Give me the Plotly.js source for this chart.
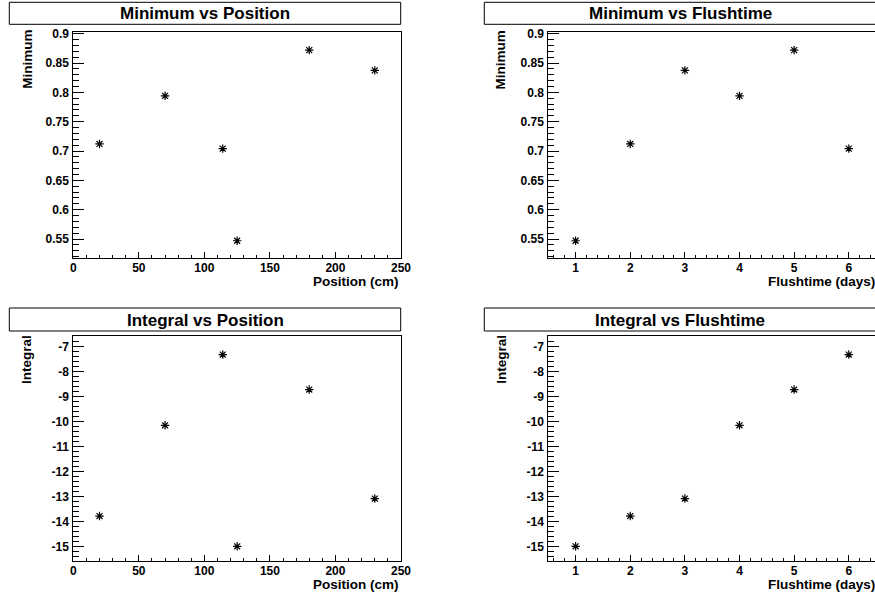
<!DOCTYPE html>
<html>
<head>
<meta charset="utf-8">
<script src="https://cdn.plot.ly/plotly-3.0.1.min.js"></script>
<style>html,body{margin:0;padding:0;background:#fff;}#chart{width:875px;height:598px;}</style>
</head>
<body>
<div id="chart"></div>
<script>
// ---- data ----
const position = [20, 70, 114, 125, 180, 230];
const minimumByPosition = [0.712, 0.794, 0.704, 0.547, 0.872, 0.8375];
const integralByPosition = [-13.79, -10.16, -7.33, -15.0, -8.73, -13.09];
const flushtime = [1, 2, 3, 4, 5, 6];
const minimumByFlushtime = [0.547, 0.712, 0.8375, 0.794, 0.872, 0.704];
const integralByFlushtime = [-15.0, -13.79, -13.09, -10.16, -8.73, -7.33];

const positionTicks = [0, 50, 100, 150, 200, 250];
const positionTickText = ["0", "50", "100", "150", "200", "250"];
const flushTicks = [1, 2, 3, 4, 5, 6];
const flushTickText = ["1", "2", "3", "4", "5", "6"];
const minimumTicks = [0.55, 0.6, 0.65, 0.7, 0.75, 0.8, 0.85, 0.9];
const minimumTickText = ["0.55", "0.6", "0.65", "0.7", "0.75", "0.8", "0.85", "0.9"];
const integralTicks = [-15, -14, -13, -12, -11, -10, -9, -8, -7];
const integralTickText = ["-15", "-14", "-13", "-12", "-11", "-10", "-9", "-8", "-7"];

const panelTitles = ["Minimum vs Position", "Minimum vs Flushtime", "Integral vs Position", "Integral vs Flushtime"];
const xTitles = ["Position (cm)", "Flushtime (days)", "Position (cm)", "Flushtime (days)"];
const yTitles = ["Minimum", "Minimum", "Integral", "Integral"];

// ---- layout helpers ----
const W = 875, H = 598;
const px = v => v / W;
const py = v => 1 - v / H;
const FONT = "Liberation Sans, Arial, Helvetica, sans-serif";
const bold = arr => arr.map(s => "<b>" + s + "</b>");

const marker = {symbol: "asterisk-open", size: 7, color: "black", line: {color: "black", width: 1.2}};
function trace(x, y, xa, ya) {
  return {x: x, y: y, xaxis: xa, yaxis: ya, type: "scatter", mode: "markers", marker: marker, hoverinfo: "skip", cliponaxis: false};
}
const data = [
  trace(position, minimumByPosition, "x", "y"),
  trace(flushtime, minimumByFlushtime, "x2", "y2"),
  trace(position, integralByPosition, "x3", "y3"),
  trace(flushtime, integralByFlushtime, "x4", "y4")
];

const tickFont = {family: FONT, size: 12, color: "black"};
function xAxis(domain, range, tv, tt, minorDt, anchor, mirror) {
  return {domain: domain, range: range, anchor: anchor, tickmode: "array", tickvals: tv, ticktext: bold(tt),
    ticks: "inside", ticklen: 6, tickwidth: 1, tickcolor: "black",
    minor: {ticks: "inside", ticklen: 3, tickwidth: 1, tickcolor: "black", dtick: minorDt, tick0: 0, showgrid: false},
    showline: true, linecolor: "black", linewidth: 1, mirror: mirror,
    showgrid: false, zeroline: false, tickfont: tickFont, ticklabelstandoff: -2, fixedrange: true};
}
function yAxis(domain, range, tv, tt, minorDt, anchor, mirror) {
  return {domain: domain, range: range, anchor: anchor, tickmode: "array", tickvals: tv, ticktext: bold(tt),
    ticks: "inside", ticklen: 11, tickwidth: 1, tickcolor: "black",
    minor: {ticks: "inside", ticklen: 6, tickwidth: 1, tickcolor: "black", dtick: minorDt, tick0: 0, showgrid: false},
    showline: true, linecolor: "black", linewidth: 1, mirror: mirror,
    showgrid: false, zeroline: false, tickfont: tickFont, ticklabelstandoff: 1, fixedrange: true};
}

const leftX = [px(73.3), px(401)];
const rightX = [px(548.3), 1];
const topY = [py(258.3), py(31.7)];
const botY = [py(561.3), py(336.3)];
const minRange = [0.5171, 0.9034];
const intRange = [-15.6, -6.6];
const posRange = [0, 250];
const flushRange = [0.5, 6.48];

const layout = {
  width: W, height: H, margin: {l: 0, r: 0, t: 0, b: 0},
  paper_bgcolor: "white", plot_bgcolor: "white", showlegend: false,
  xaxis: xAxis(leftX, posRange, positionTicks, positionTickText, 10, "y", true),
  yaxis: yAxis(topY, minRange, minimumTicks, minimumTickText, 0.01, "x", true),
  xaxis2: xAxis(rightX, flushRange, flushTicks, flushTickText, 0.2, "y2", true),
  yaxis2: yAxis(topY, minRange, minimumTicks, minimumTickText, 0.01, "x2", false),
  xaxis3: xAxis(leftX, posRange, positionTicks, positionTickText, 10, "y3", true),
  yaxis3: yAxis(botY, intRange, integralTicks, integralTickText, 0.2, "x3", true),
  xaxis4: xAxis(rightX, flushRange, flushTicks, flushTickText, 0.2, "y4", true),
  yaxis4: yAxis(botY, intRange, integralTicks, integralTickText, 0.2, "x4", false),
  shapes: [], annotations: []
};

// title boxes [x0, x1, y0, y1] in pixels
const boxes = [[9.3, 400.7, 2.3, 24.3], [484.3, 880, 2.3, 24.3], [9.3, 400.7, 308, 331], [484.3, 880, 308, 331]];
const titleCenters = [205, 680, 205, 680];
boxes.forEach((b, i) => {
  layout.shapes.push({type: "rect", xref: "paper", yref: "paper", x0: px(b[0]), x1: px(b[1]), y0: py(b[2]), y1: py(b[3]),
    line: {color: "black", width: 1}, fillcolor: "white", layer: "below"});
  layout.annotations.push({xref: "paper", yref: "paper", x: px(titleCenters[i]), y: py((b[2] + b[3]) / 2 + 0.5),
    xanchor: "center", yanchor: "middle", showarrow: false, text: "<b>" + panelTitles[i] + "</b>",
    font: {family: FONT, size: 17, color: "black"}});
});

// x axis titles (right aligned to plot right edge)
const xTitlePos = [[401, 281.7], [876.5, 281.7], [401, 584.5], [876.5, 584.5]];
xTitlePos.forEach((p, i) => {
  layout.annotations.push({xref: "paper", yref: "paper", x: px(p[0]), y: py(p[1]), xanchor: "right", yanchor: "middle",
    showarrow: false, text: "<b>" + xTitles[i] + "</b>", font: {family: FONT, size: 13.5, color: "black"}});
});
// y axis titles (rotated, aligned to the plot top)
const yTitlePos = [[28, 59.7], [500.7, 59.7], [26, 360], [500.7, 359]];
yTitlePos.forEach((p, i) => {
  layout.annotations.push({xref: "paper", yref: "paper", x: px(p[0]), y: py(p[1]), xanchor: "center", yanchor: "middle",
    textangle: -90, showarrow: false, text: "<b>" + yTitles[i] + "</b>", font: {family: FONT, size: 13.5, color: "black"}});
});

Plotly.newPlot("chart", data, layout, {displayModeBar: false, staticPlot: true});
</script>
</body>
</html>
